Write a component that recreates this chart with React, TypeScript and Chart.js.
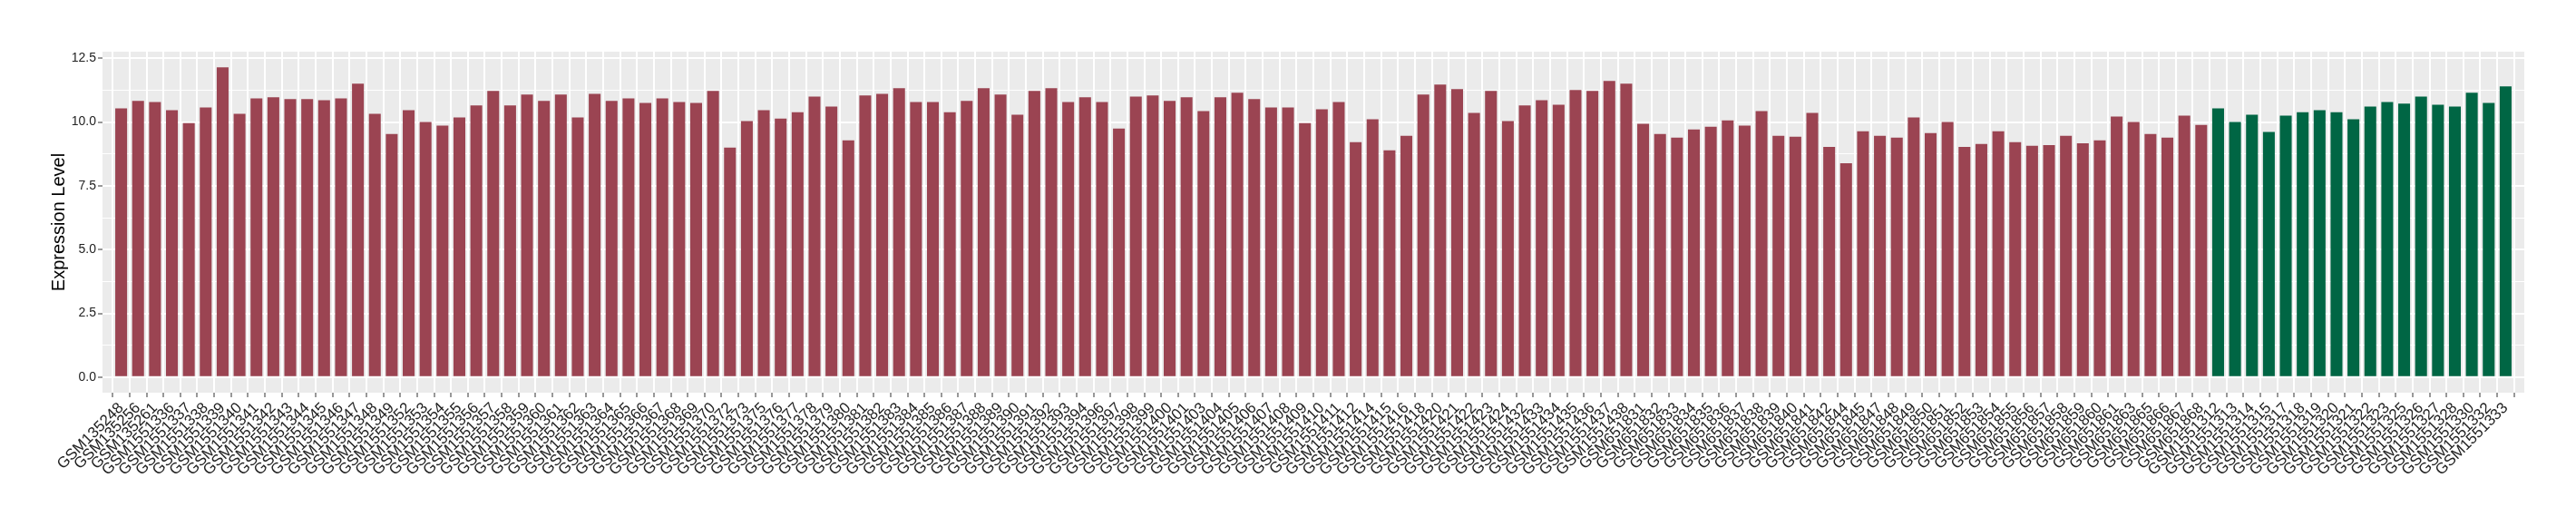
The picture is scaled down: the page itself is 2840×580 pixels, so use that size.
import React, { useEffect, useRef } from "react";
import { Chart, registerables } from "chart.js";

Chart.register(...registerables);

const groupASamples: string[] = [
  "GSM135248", "GSM135256", "GSM135261",
  "GSM1551336", "GSM1551337", "GSM1551338", "GSM1551339", "GSM1551340", "GSM1551341", "GSM1551342", "GSM1551343", "GSM1551344", "GSM1551345",
  "GSM1551346", "GSM1551347", "GSM1551348", "GSM1551349",
  "GSM1551352", "GSM1551353", "GSM1551354", "GSM1551355", "GSM1551356", "GSM1551357", "GSM1551358", "GSM1551359", "GSM1551360", "GSM1551361", "GSM1551362", "GSM1551363",
  "GSM1551364", "GSM1551365", "GSM1551366", "GSM1551367", "GSM1551368", "GSM1551369", "GSM1551370",
  "GSM1551372", "GSM1551373",
  "GSM1551375", "GSM1551376", "GSM1551377", "GSM1551378", "GSM1551379", "GSM1551380", "GSM1551381", "GSM1551382", "GSM1551383", "GSM1551384",
  "GSM1551385", "GSM1551386", "GSM1551387", "GSM1551388", "GSM1551389", "GSM1551390", "GSM1551391", "GSM1551392", "GSM1551393", "GSM1551394",
  "GSM1551396", "GSM1551397", "GSM1551398", "GSM1551399",
  "GSM1551400", "GSM1551401",
  "GSM1551403", "GSM1551404", "GSM1551405", "GSM1551406", "GSM1551407", "GSM1551408", "GSM1551409", "GSM1551410", "GSM1551411", "GSM1551412",
  "GSM1551414", "GSM1551415", "GSM1551416", "GSM1551418",
  "GSM1551420", "GSM1551421", "GSM1551422", "GSM1551423", "GSM1551424",
  "GSM1551432", "GSM1551433", "GSM1551434", "GSM1551435", "GSM1551436", "GSM1551437", "GSM1551438",
  "GSM651831", "GSM651832", "GSM651833", "GSM651834", "GSM651835", "GSM651836", "GSM651837", "GSM651838", "GSM651839", "GSM651840", "GSM651841", "GSM651842",
  "GSM651844", "GSM651845",
  "GSM651847", "GSM651848", "GSM651849", "GSM651850", "GSM651851", "GSM651852", "GSM651853", "GSM651854", "GSM651855", "GSM651856", "GSM651857", "GSM651858", "GSM651859", "GSM651860", "GSM651861",
  "GSM651863", "GSM651865", "GSM651866", "GSM651867", "GSM651868",
];

const groupAValues: number[] = [
  10.54, 10.83, 10.79, 10.47, 9.96, 10.57, 12.15, 10.32, 10.93, 10.97,
  10.9, 10.9, 10.86, 10.93, 11.51, 10.32, 9.53, 10.47, 10.0, 9.86,
  10.18, 10.65, 11.22, 10.65, 11.08, 10.83, 11.08, 10.18, 11.11, 10.83,
  10.93, 10.75, 10.93, 10.79, 10.75, 11.22, 9.0, 10.04, 10.47, 10.14,
  10.39, 11.0, 10.61, 9.28, 11.04, 11.11, 11.33, 10.79, 10.79, 10.39,
  10.83, 11.33, 11.08, 10.29, 11.22, 11.33, 10.79, 10.97, 10.79, 9.75,
  11.0, 11.04, 10.83, 10.97, 10.43, 10.97, 11.15, 10.9, 10.57, 10.57,
  9.96, 10.5, 10.79, 9.21, 10.11, 8.89, 9.46, 11.08, 11.47, 11.29,
  10.36, 11.22, 10.04, 10.65, 10.86, 10.68, 11.26, 11.22, 11.61, 11.51,
  9.93, 9.53, 9.39, 9.71, 9.82, 10.07, 9.86, 10.43, 9.46, 9.43,
  10.36, 9.03, 8.39, 9.64, 9.46, 9.39, 10.18, 9.57, 10.0, 9.03,
  9.14, 9.64, 9.21, 9.07, 9.1, 9.46, 9.17, 9.28, 10.22, 10.0,
  9.53, 9.39, 10.25, 9.89,
];

const groupBSamples: string[] = [
  "GSM1551312", "GSM1551313", "GSM1551314", "GSM1551315", "GSM1551317", "GSM1551318", "GSM1551319", "GSM1551320", "GSM1551321",
  "GSM1551322", "GSM1551323", "GSM1551325", "GSM1551326", "GSM1551327", "GSM1551328", "GSM1551330", "GSM1551332", "GSM1551333",
];

const groupBValues: number[] = [
  10.54, 10.0, 10.29, 9.61, 10.25, 10.39, 10.47, 10.39, 10.11,
  10.61, 10.79, 10.72, 11.0, 10.68, 10.61, 11.15, 10.75, 11.4,
];

const yTickValues: number[] = [0, 1.25, 2.5, 3.75, 5, 6.25, 7.5, 8.75, 10, 11.25, 12.5];

const colorA = "#9B4452";
const colorB = "#006644";

export default function App() {
  const ref = useRef<HTMLCanvasElement | null>(null);

  useEffect(() => {
    const canvas = ref.current;
    if (!canvas) return;
    const labels = [...groupASamples, ...groupBSamples];
    const values = [...groupAValues, ...groupBValues];
    const colors = [
      ...groupAValues.map(() => colorA),
      ...groupBValues.map(() => colorB),
    ];
    const isMajor = (v: number) => Math.abs(v / 2.5 - Math.round(v / 2.5)) < 1e-9;

    const panelBg = {
      id: "panelBg",
      beforeDraw(chart: any) {
        const { ctx, chartArea } = chart;
        ctx.save();
        ctx.fillStyle = "#EBEBEB";
        ctx.fillRect(chartArea.left, chartArea.top, chartArea.right - chartArea.left, chartArea.bottom - chartArea.top);
        ctx.restore();
      },
    };

    const chart = new Chart(canvas, {
      type: "bar",
      data: {
        datasets: [
          {
            data: values.map((v, i) => ({ x: i, y: v })),
            backgroundColor: colors,
            borderWidth: 0,
            barPercentage: 0.7,
            categoryPercentage: 1.0,
          },
        ],
      },
      options: {
        responsive: false,
        animation: false,
        layout: { padding: { top: 57, right: 57, left: 0, bottom: 0 } },
        plugins: {
          legend: { display: false },
          tooltip: { enabled: false },
        },
        scales: {
          x: {
            type: "linear",
            min: -0.6,
            max: labels.length - 1 + 0.6,
            afterBuildTicks: (scale: any) => {
              scale.ticks = labels.map((_, i) => ({ value: i }));
            },
            afterFit: (scale: any) => {
              scale.height = 147;
            },
            ticks: {
              autoSkip: false,
              maxRotation: 45,
              minRotation: 45,
              padding: 2,
              color: "#222222",
              font: { family: "Liberation Sans, Arial, sans-serif", size: 17 },
              callback: (v: any) => labels[v] ?? "",
            },
            grid: {
              color: "#FFFFFF",
              lineWidth: 2,
              drawTicks: true,
              tickLength: 5,
              tickColor: "#333333",
              tickWidth: 1,
            },
            border: { display: false },
          },
          y: {
            type: "linear",
            min: -0.61,
            max: 12.76,
            afterBuildTicks: (scale: any) => {
              scale.ticks = yTickValues.map((v) => ({ value: v }));
            },
            afterFit: (scale: any) => {
              scale.width = 113;
            },
            ticks: {
              autoSkip: false,
              padding: 2,
              color: "#222222",
              font: { family: "Liberation Sans, Arial, sans-serif", size: 14 },
              callback: (v: any) => (isMajor(Number(v)) ? Number(v).toFixed(1) : ""),
            },
            grid: {
              color: "#FFFFFF",
              lineWidth: (ctx: any) => (ctx.tick && isMajor(ctx.tick.value) ? 2 : 1),
              drawTicks: true,
              tickLength: 5,
              tickColor: (ctx: any) => (ctx.tick && isMajor(ctx.tick.value) ? "#333333" : "rgba(0,0,0,0)"),
              tickWidth: 1,
            },
            border: { display: false },
            title: {
              display: true,
              text: "Expression Level",
              color: "#000000",
              font: { family: "Liberation Sans, Arial, sans-serif", size: 20 },
              padding: { top: 53, bottom: 0 },
            },
          },
        },
      },
      plugins: [panelBg],
    } as any);

    return () => chart.destroy();
  }, []);

  return (
    <div style={{ position: "fixed", left: 0, top: 0, width: 2840, height: 580, background: "#FFFFFF" }}>
      <canvas ref={ref} width={2840} height={580} style={{ width: 2840, height: 580, display: "block" }} />
    </div>
  );
}
